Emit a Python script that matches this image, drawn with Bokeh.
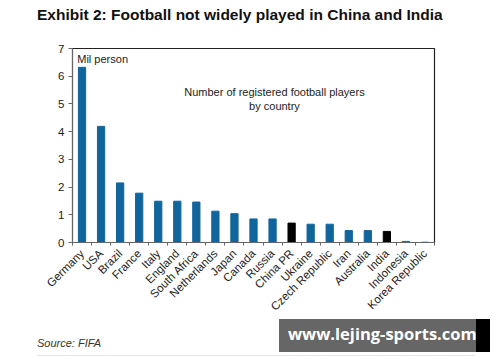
import numpy as np
from bokeh.plotting import figure
from bokeh.layouts import column
from bokeh.models import Range1d, FixedTicker, Label, ColumnDataSource, Div
from bokeh.embed import file_html
from bokeh.resources import INLINE

countries = ["Germany", "USA", "Brazil", "France", "Italy", "England", "South Africa",
             "Netherlands", "Japan", "Canada", "Russia", "China PR", "Ukraine",
             "Czech Republic", "Iran", "Australia", "India", "Indonesia", "Korea Republic"]
players = [6.32, 4.19, 2.15, 1.78, 1.49, 1.49, 1.46, 1.13, 1.04, 0.85, 0.85, 0.70,
           0.66, 0.66, 0.43, 0.43, 0.40, 0.04, 0.01]
highlight = ["China PR", "India"]
y_ticks = [0, 1, 2, 3, 4, 5, 6, 7]
title_text = "Exhibit 2: Football not widely played in China and India"
source_text = "Source: FIFA"

BLUE = "#11659d"
FONT = "Liberation Sans"

n = len(countries)
xs = np.arange(n) + 0.5
colors = ["#000000" if c in highlight else BLUE for c in countries]
src = ColumnDataSource(dict(x=xs, top=players, color=colors))

header = Div(width=500, height=30, margin=0, text=(
    '<div style="position:relative;width:500px;height:30px;">'
    '<span style="position:absolute;left:37px;top:6px;line-height:18px;font-size:15.5px;'
    'font-family:\'Liberation Sans\';font-weight:bold;color:#111111;white-space:nowrap;">'
    + title_text + '</span></div>'))

p = figure(width=500, height=289, output_backend="svg", toolbar_location=None,
           x_range=Range1d(0, n), y_range=Range1d(0, 7),
           min_border_left=72, min_border_right=66, min_border_top=18, min_border_bottom=76)
p.outline_line_color = "#222222"
p.outline_line_width = 1.2
p.grid.visible = False
p.background_fill_color = "white"
p.border_fill_color = "white"

p.vbar(x="x", top="top", width=0.38, color="color", source=src)

# x axis: labels at centers, ticks at boundaries
p.xaxis.ticker = FixedTicker(ticks=list(xs), minor_ticks=list(range(n + 1)))
p.xaxis.major_label_overrides = {float(x): c for x, c in zip(xs, countries)}
p.xaxis.major_tick_out = 0
p.xaxis.major_tick_in = 0
p.xaxis.minor_tick_out = 3
p.xaxis.minor_tick_in = 0
p.xaxis.minor_tick_line_color = "#666666"
p.xaxis.axis_line_color = "#666666"
p.xaxis.major_label_orientation = np.pi / 4
p.xaxis.major_label_text_font = FONT
p.xaxis.major_label_text_font_size = "11.5px"
p.xaxis.major_label_text_color = "#222222"
p.xaxis.major_label_standoff = 6

p.yaxis.ticker = FixedTicker(ticks=y_ticks)
p.yaxis.minor_tick_line_color = None
p.yaxis.major_tick_out = 4
p.yaxis.major_tick_in = 0
p.yaxis.major_tick_line_color = "#666666"
p.yaxis.axis_line_color = "#666666"
p.yaxis.major_label_text_font = FONT
p.yaxis.major_label_text_font_size = "11.5px"
p.yaxis.major_label_text_color = "#222222"
p.yaxis.major_label_standoff = 4

def lab(x, y, text, **kw):
    args = dict(text_font=FONT, text_font_size="11px", text_color="#222222")
    args.update(kw)
    p.add_layout(Label(x=x, y=y, text=text, **args))

lab(0.25, 6.62, "Mil person", text_baseline="middle")
lab(10.6, 5.42, "Number of registered football players", text_align="center", text_baseline="middle")
lab(10.6, 4.92, "by country", text_align="center", text_baseline="middle")

footer = Div(width=500, height=43, margin=0, text=(
    '<div style="position:relative;width:500px;height:43px;font-family:\'Liberation Sans\';">'
    '<span style="position:absolute;left:37px;top:17px;line-height:14px;font-size:11px;'
    'font-style:italic;color:#333333;">' + source_text + '</span>'
    '<div style="position:absolute;left:37px;top:36px;width:438px;height:1px;background:#e4e8ec;"></div>'
    '<div style="position:absolute;left:279px;top:0px;width:197px;height:33px;background:#666666;"></div>'
    '<div style="position:absolute;left:476px;top:0px;width:14px;height:33px;background:#000000;"></div>'
    '<span style="position:absolute;left:288px;top:3px;line-height:24px;font-size:16.5px;'
    'font-family:\'Open Sans\';font-weight:bold;color:#ffffff;white-space:nowrap;">www.lejing-sports.com</span>'
    '</div>'))

layout = column(header, p, footer, spacing=0)
open("out.html", "w").write(file_html(layout, INLINE))
